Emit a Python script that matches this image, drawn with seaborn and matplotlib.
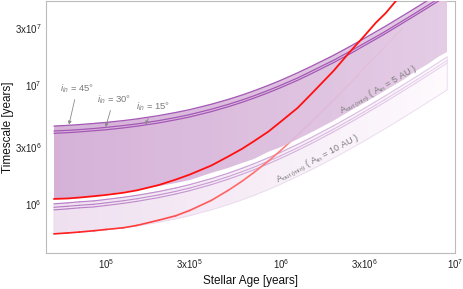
import numpy as np
import pandas as pd
import matplotlib
matplotlib.use("Agg")
import matplotlib.pyplot as plt
import seaborn as sns
from matplotlib.collections import LineCollection
from matplotlib.colors import LinearSegmentedColormap, to_rgb

ages = [5e4, 6e4, 7e4, 8.5e4, 1e5, 1.25e5, 1.5e5, 2e5, 2.5e5, 3e5, 4e5, 5e5, 6e5, 7e5,
        8.5e5, 1e6, 1.25e6, 1.5e6, 2e6, 2.5e6, 3e6, 3.5e6, 4e6, 5e6, 6e6, 7e6, 8e6, 9e6]

# A_in = 5 AU band: top edge for three inclinations, lower edge = A_out(min)
t45_5au = [4.50e6, 4.56e6, 4.63e6, 4.73e6, 4.83e6, 5.00e6, 5.17e6, 5.51e6, 5.85e6, 6.18e6,
           6.86e6, 7.53e6, 8.20e6, 8.88e6, 9.89e6, 1.09e7, 1.26e7, 1.43e7, 1.76e7, 2.10e7,
           2.44e7, 2.78e7, 3.11e7, 3.79e7, 4.46e7, 5.13e7, 5.80e7, 6.48e7]
t30_5au = [4.09e6, 4.14e6, 4.20e6, 4.29e6, 4.39e6, 4.54e6, 4.69e6, 5.00e6, 5.31e6, 5.61e6,
           6.23e6, 6.84e6, 7.45e6, 8.06e6, 8.98e6, 9.90e6, 1.14e7, 1.30e7, 1.60e7, 1.91e7,
           2.22e7, 2.52e7, 2.82e7, 3.44e7, 4.05e7, 4.66e7, 5.27e7, 5.88e7]
t15_5au = [3.91e6, 3.96e6, 4.02e6, 4.11e6, 4.19e6, 4.34e6, 4.49e6, 4.78e6, 5.08e6, 5.36e6,
           5.95e6, 6.54e6, 7.12e6, 7.71e6, 8.58e6, 9.46e6, 1.09e7, 1.24e7, 1.53e7, 1.82e7,
           2.12e7, 2.41e7, 2.70e7, 3.29e7, 3.87e7, 4.45e7, 5.03e7, 5.62e7]
amin_5au = [1.10e6, 1.12e6, 1.14e6, 1.17e6, 1.20e6, 1.25e6, 1.30e6, 1.40e6, 1.50e6, 1.60e6,
            1.80e6, 2.00e6, 2.20e6, 2.40e6, 2.70e6, 3.00e6, 3.50e6, 4.00e6, 5.00e6, 6.00e6,
            7.00e6, 8.00e6, 9.00e6, 1.10e7, 1.30e7, 1.50e7, 1.70e7, 1.90e7]

# A_in = 10 AU band
t45_10au = [1.00e6, 1.02e6, 1.04e6, 1.06e6, 1.09e6, 1.135e6, 1.18e6, 1.27e6, 1.36e6, 1.45e6,
            1.63e6, 1.81e6, 1.99e6, 2.17e6, 2.44e6, 2.71e6, 3.16e6, 3.61e6, 4.51e6, 5.41e6,
            6.31e6, 7.21e6, 8.11e6, 9.91e6, 1.171e7, 1.351e7, 1.531e7, 1.711e7]
t30_10au = [9.36e5, 9.55e5, 9.73e5, 9.92e5, 1.02e6, 1.062e6, 1.104e6, 1.189e6, 1.273e6, 1.357e6,
            1.526e6, 1.694e6, 1.863e6, 2.031e6, 2.284e6, 2.537e6, 2.958e6, 3.379e6, 4.221e6, 5.064e6,
            5.906e6, 6.749e6, 7.591e6, 9.276e6, 1.096e7, 1.265e7, 1.433e7, 1.601e7]
t15_10au = [8.90e5, 9.08e5, 9.26e5, 9.43e5, 9.70e5, 1.01e6, 1.05e6, 1.13e6, 1.21e6, 1.29e6,
            1.451e6, 1.611e6, 1.771e6, 1.931e6, 2.172e6, 2.412e6, 2.812e6, 3.213e6, 4.014e6, 4.815e6,
            5.616e6, 6.417e6, 7.218e6, 8.82e6, 1.042e7, 1.202e7, 1.363e7, 1.523e7]
amin_10au = [5.60e5, 5.67e5, 5.77e5, 5.91e5, 6.05e5, 6.29e5, 6.53e5, 7.00e5, 7.48e5, 7.95e5,
             8.90e5, 9.85e5, 1.08e6, 1.175e6, 1.318e6, 1.46e6, 1.70e6, 1.935e6, 2.41e6, 2.885e6,
             3.36e6, 3.835e6, 4.31e6, 5.26e6, 6.21e6, 7.16e6, 8.11e6, 9.06e6]

# red curves
red_ages = [5e4, 6e4, 7e4, 8.5e4, 1e5, 1.25e5, 1.5e5, 2e5, 2.5e5, 3e5, 4e5, 5e5, 6e5, 7e5,
            8.5e5, 1e6, 1.25e6, 1.5e6, 2e6, 2.5e6, 3e6, 3.5e6, 4e6, 5e6]
red_5au = [1.10e6, 1.11e6, 1.13e6, 1.16e6, 1.19e6, 1.24e6, 1.30e6, 1.44e6, 1.60e6, 1.76e6,
           2.10e6, 2.50e6, 2.90e6, 3.35e6, 4.05e6, 4.90e6, 6.40e6, 8.40e6, 1.30e7, 1.90e7,
           2.55e7, 3.30e7, 4.00e7, 5.90e7]
red_10au = [5.60e5, 5.70e5, 5.80e5, 5.95e5, 6.10e5, 6.30e5, 6.60e5, 7.30e5, 7.95e5, 8.80e5,
            1.07e6, 1.30e6, 1.55e6, 1.83e6, 2.29e6, 2.81e6, 3.78e6, 4.90e6, 7.40e6, 1.03e7,
            1.37e7, 1.73e7, 2.13e7, 3.00e7]

x_ticks = [1e5, 3e5, 1e6, 3e6, 1e7]
x_labels = ["10$^5$", "3x10$^5$", "10$^6$", "3x10$^6$", "10$^7$"]
y_ticks = [1e6, 3e6, 1e7, 3e7]
y_labels = ["10$^6$", "3x10$^6$", "10$^7$", "3x10$^7$"]

sns.set_style("white")
plt.rcParams["font.family"] = ["Liberation Sans", "DejaVu Sans"]
plt.rcParams["mathtext.fontset"] = "custom"
plt.rcParams["mathtext.rm"] = "Liberation Sans"
plt.rcParams["mathtext.it"] = "Liberation Sans:italic"

fig = plt.figure(figsize=(4.64, 2.89), dpi=100)
ax = fig.add_axes([0.099, 0.126, 0.882, 0.869])
ax.set_xscale("log")
ax.set_yscale("log")
ax.set_xlim(4.5e4, 1e7)
ax.set_ylim(3.9e5, 5e7)

lo_a, hi_a = np.log10(ages[0]), np.log10(ages[-1])


def fade(x):
    return (np.log10(x) - lo_a) / (hi_a - lo_a)


def faded_line(xs, ys, color, fmax, lw, z):
    xs, ys = np.asarray(xs), np.asarray(ys)
    segs = [[(xs[i], ys[i]), (xs[i + 1], ys[i + 1])] for i in range(len(xs) - 1)]
    base = np.array(to_rgb(color))
    cols = []
    for i in range(len(xs) - 1):
        f = fmax * fade(np.sqrt(xs[i] * xs[i + 1]))
        cols.append(base * (1 - f) + f)
    lc = LineCollection(segs, colors=cols, linewidths=lw, capstyle="round", zorder=z)
    ax.add_collection(lc)


# gradient edges for the fills (left to right)
xe = np.geomspace(ages[0], ages[-1], 90)
grad = np.linspace(0, 1, len(xe) - 1)[None, :]

# 10 AU band
poly2 = ax.fill_between(ages, amin_10au, t45_10au, facecolor="none",
                        edgecolor="#e8d8ec", lw=0.6, zorder=1.5)
cmap2 = LinearSegmentedColormap.from_list("b2", ["#efe0f0", "#fdf9fd"])
m2 = ax.pcolormesh(xe, [1e5, 1e8], grad, cmap=cmap2, shading="flat", zorder=1)
m2.set_clip_path(poly2.get_paths()[0], ax.transData)
for ys in [t45_10au, t30_10au, t15_10au]:
    faded_line(ages, ys, "#b577c4", 0.7, 0.8, 2)
faded_line(red_ages, red_10au, "#ff1a1a", 0.75, 1.2, 2.5)

# 5 AU band
poly1 = ax.fill_between(ages, amin_5au, t45_5au, facecolor="none", edgecolor="none")
cmap1 = LinearSegmentedColormap.from_list("b1", ["#d2abd5", "#e2c8e3"])
m1 = ax.pcolormesh(xe, [1e5, 1e8], grad, cmap=cmap1, shading="flat", alpha=0.92, zorder=3)
m1.set_clip_path(poly1.get_paths()[0], ax.transData)

df_top = pd.DataFrame({
    "age": ages * 3,
    "value": t45_5au + t30_5au + t15_5au,
    "incl": ["45"] * len(ages) + ["30"] * len(ages) + ["15"] * len(ages),
})
sns.lineplot(data=df_top, x="age", y="value", hue="incl", units="incl", estimator=None,
             palette={"45": "#a458b5", "30": "#a458b5", "15": "#a458b5"},
             lw=0.9, legend=False, ax=ax, zorder=4)

df_red = pd.DataFrame({"age": red_ages, "value": red_5au})
sns.lineplot(data=df_red, x="age", y="value", color="#ff1010", lw=1.3, ax=ax, zorder=5)

# annotations
gray = "#7a7a7a"
arr = dict(arrowstyle="-|>", color="#8a8a8a", lw=0.6, mutation_scale=5, shrinkA=1, shrinkB=0)
ax.annotate(r"$i_{in}$ = 45°", xy=(6.1e4, 4.62e6), xytext=(6.8e4, 9.25e6),
            ha="center", va="center", fontsize=6.8, color=gray, arrowprops=arr, zorder=6)
ax.annotate(r"$i_{in}$ = 30°", xy=(9.9e4, 4.42e6), xytext=(1.1e5, 7.5e6),
            ha="center", va="center", fontsize=6.8, color=gray, arrowprops=arr, zorder=6)
ax.annotate(r"$i_{in}$ = 15°", xy=(1.68e5, 4.62e6), xytext=(1.84e5, 6.5e6),
            ha="center", va="center", fontsize=6.8, color=gray, arrowprops=arr, zorder=6)

ax.text(3.66e6, 9.0e6, r"A$_{\rm out\ (min)}$ ( A$_{\rm in}$ = 5 AU )", rotation=30,
        rotation_mode="anchor", ha="center", va="center", fontsize=6.5, color=gray, zorder=6)
ax.text(1.63e6, 2.34e6, r"A$_{\rm out\ (min)}$ ( A$_{\rm in}$ = 10 AU )", rotation=28,
        rotation_mode="anchor", ha="center", va="center", fontsize=6.5, color=gray, zorder=6)

ax.set_xticks(x_ticks)
ax.set_xticklabels(x_labels)
ax.set_yticks(y_ticks)
ax.set_yticklabels(y_labels)
ax.minorticks_off()
ax.tick_params(direction="in", length=3, width=0.6, color="#bbbbbb",
               labelsize=7, labelcolor="#222222", pad=3)
for s in ax.spines.values():
    s.set_color("#bbbbbb")
    s.set_linewidth(0.8)

ax.set_xlabel("Stellar Age [years]", fontsize=8.5, color="#111111", labelpad=3)
ax.set_ylabel("Timescale [years]", fontsize=8.5, color="#111111", labelpad=0.5)

fig.savefig("out.png", dpi=100)
